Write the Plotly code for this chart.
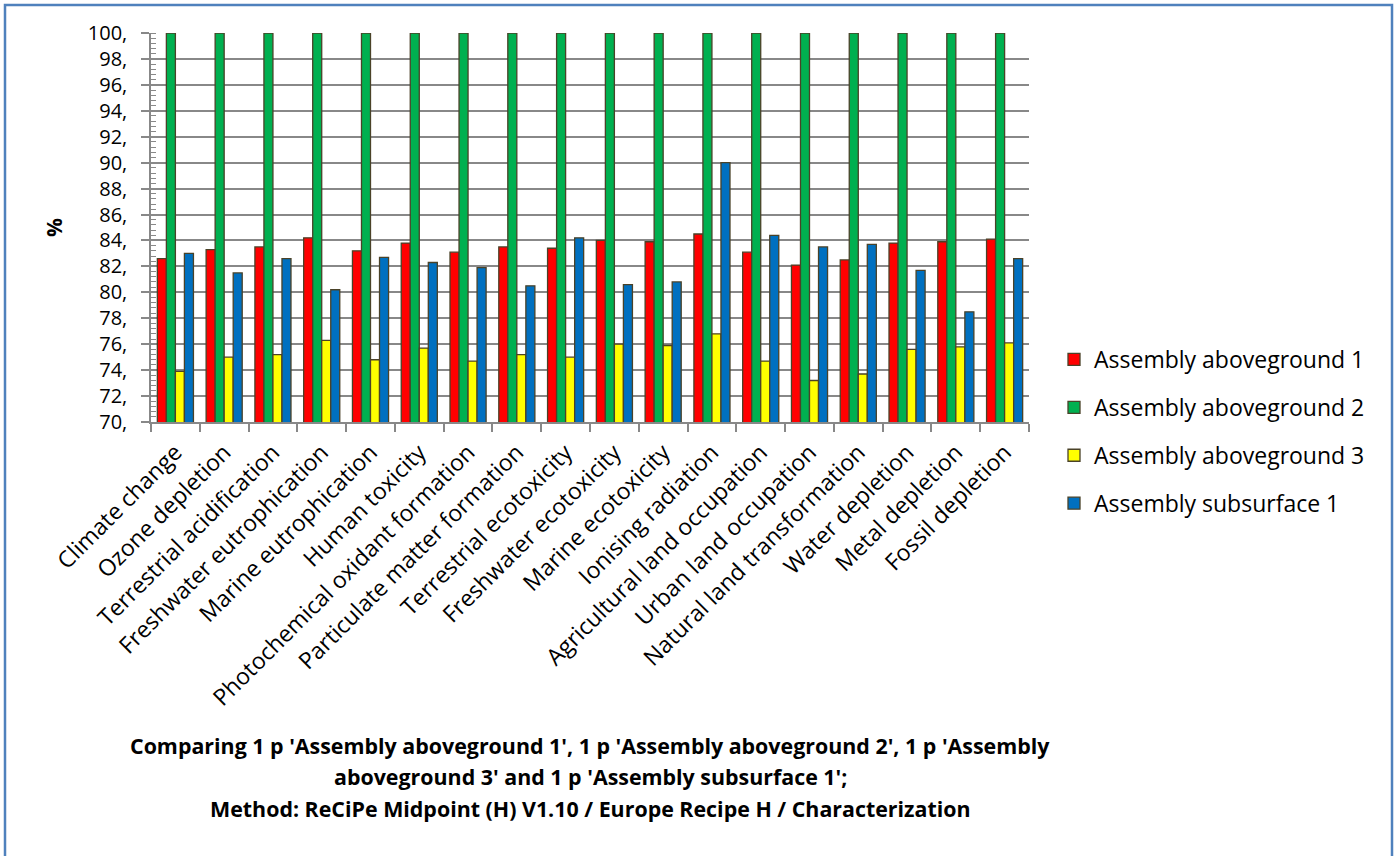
import plotly.graph_objects as go

# Impact categories (ReCiPe midpoint)
categories = [
    "Climate change", "Ozone depletion", "Terrestrial acidification",
    "Freshwater eutrophication", "Marine eutrophication", "Human toxicity",
    "Photochemical oxidant formation", "Particulate matter formation",
    "Terrestrial ecotoxicity", "Freshwater ecotoxicity", "Marine ecotoxicity",
    "Ionising radiation", "Agricultural land occupation", "Urban land occupation",
    "Natural land transformation", "Water depletion", "Metal depletion",
    "Fossil depletion",
]

# Characterization results, % of the highest assembly
aboveground_1 = [82.6, 83.3, 83.5, 84.2, 83.2, 83.8, 83.1, 83.5, 83.4,
                 84.0, 83.9, 84.5, 83.1, 82.1, 82.5, 83.8, 83.9, 84.1]
aboveground_2 = [100.0] * 18
aboveground_3 = [73.9, 75.0, 75.2, 76.3, 74.8, 75.7, 74.7, 75.2, 75.0,
                 76.0, 75.9, 76.8, 74.7, 73.2, 73.7, 75.6, 75.8, 76.1]
subsurface_1 = [83.0, 81.5, 82.6, 80.2, 82.7, 82.3, 81.9, 80.5, 84.2,
                80.6, 80.8, 90.0, 84.4, 83.5, 83.7, 81.7, 78.5, 82.6]

series_names = ["Assembly aboveground 1", "Assembly aboveground 2",
                "Assembly aboveground 3", "Assembly subsurface 1"]
series_values = [aboveground_1, aboveground_2, aboveground_3, subsurface_1]
series_colors = ["#FF0000", "#00B050", "#FFFF00", "#0070C0"]

y_tick_values = [70, 72, 74, 76, 78, 80, 82, 84, 86, 88, 90, 92, 94, 96, 98, 100]
y_tick_labels = ["70,", "72,", "74,", "76,", "78,", "80,", "82,", "84,", "86,",
                 "88,", "90,", "92,", "94,", "96,", "98,", "100,"]

title_lines = [
    "Comparing 1 p 'Assembly aboveground 1', 1 p 'Assembly aboveground 2', 1 p 'Assembly",
    "aboveground 3' and 1 p 'Assembly subsurface 1';",
    "Method: ReCiPe Midpoint (H) V1.10 / Europe Recipe H / Characterization",
]

FONT = "Open Sans"
GRID = "#888888"
OUTLINE = "#4A4228"

W, H = 1399, 856
L, R, T, B = 151, 370, 33, 434
PW, PH = W - L - R, H - T - B


def px_x(p):
    return (p - L) / PW


def px_y(p):
    return (H - B - p) / PH


fig = go.Figure()
for i, (name, vals, col) in enumerate(zip(series_names, series_values, series_colors)):
    fig.add_trace(go.Bar(
        x=categories, y=vals, name=name, legendgroup=f"g{i}",
        marker=dict(color=col, line=dict(color=OUTLINE, width=1.3)),
    ))

annotations = []
title_y = [745, 776, 808]
for line, yp in zip(title_lines, title_y):
    annotations.append(dict(
        text=f"<b>{line}</b>", x=0.5, y=px_y(yp), xref="paper", yref="paper",
        xanchor="center", yanchor="middle", showarrow=False,
        font=dict(family=FONT, size=21.4, color="black"),
    ))

fig.update_layout(
    width=W, height=H,
    margin=dict(l=L, r=R, t=T, b=B, autoexpand=False),
    paper_bgcolor="white", plot_bgcolor="white",
    barmode="group", bargap=0.26, bargroupgap=0.0,
    font=dict(family=FONT, color="black"),
    showlegend=True,
    legend=dict(
        x=px_x(1054), y=px_y(338), xanchor="left", yanchor="top",
        font=dict(family=FONT, size=23, color="black"),
        tracegroupgap=15, itemwidth=30, bgcolor="rgba(0,0,0,0)",
    ),
    xaxis=dict(
        type="category", tickangle=-45, tickson="boundaries",
        ticks="outside", ticklen=8, tickcolor=GRID, tickwidth=1.5,
        showline=True, linecolor=GRID, linewidth=1.5, ticklabelstandoff=6,
        showgrid=False, tickfont=dict(family=FONT, size=23, color="black"),
    ),
    yaxis=dict(
        range=[70, 100], tickmode="array", tickvals=y_tick_values, ticktext=y_tick_labels,
        ticks="outside", ticklen=8, tickcolor=GRID, tickwidth=1.5, ticklabelstandoff=10,
        showline=True, linecolor=GRID, linewidth=1.5,
        showgrid=True, gridcolor=GRID, gridwidth=1.8, zeroline=False,
        minor=dict(ticks="inside", dtick=0.4, tick0=70, ticklen=5, tickcolor=GRID,
                   tickwidth=1, showgrid=False),
        tickfont=dict(family=FONT, size=20, color="black"),
        title=dict(text="<b>%</b>", font=dict(family=FONT, size=21, color="black"), standoff=19),
    ),
    annotations=annotations,
    shapes=[dict(
        type="rect", xref="paper", yref="paper",
        x0=px_x(5), x1=px_x(1392), y0=px_y(880), y1=px_y(5),
        line=dict(color="#4F81BD", width=2.5), fillcolor="rgba(0,0,0,0)", layer="above",
    )],
)

fig.write_html("out.html")
